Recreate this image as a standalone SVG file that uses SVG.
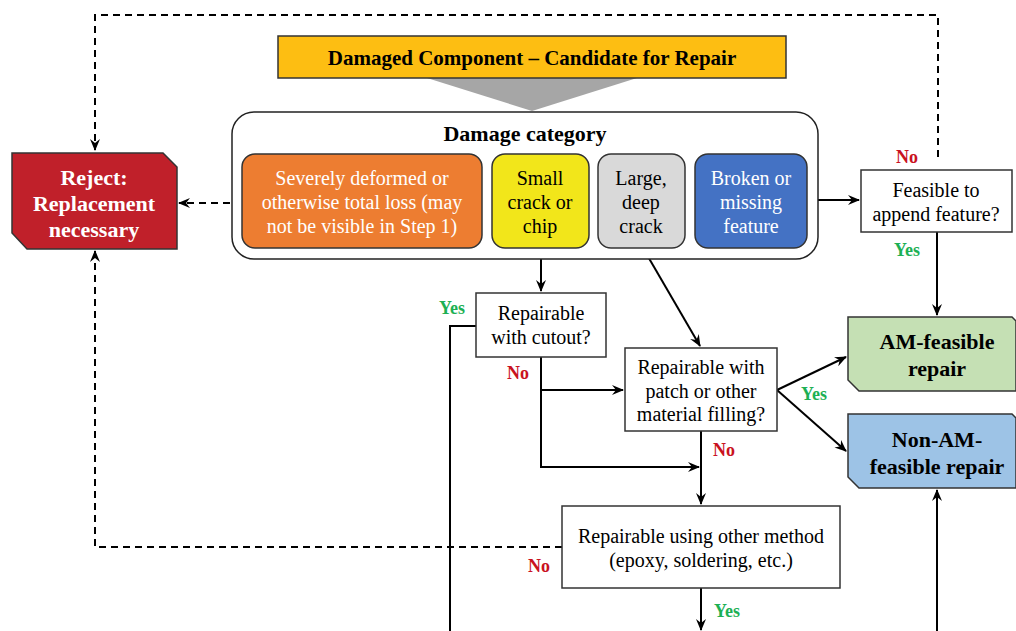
<svg xmlns="http://www.w3.org/2000/svg" width="1016" height="631" viewBox="0 0 1016 631">
<defs>
<marker id="ah" viewBox="0 0 12 10" refX="11" refY="5" markerWidth="12" markerHeight="10" markerUnits="userSpaceOnUse" orient="auto">
<path d="M0,0 L12,5 L0,10 L4,5 z" fill="#000"/>
</marker>
</defs>
<rect width="1016" height="631" fill="#fff"/>
<g id="connectors">
<g fill="none" stroke="#000" stroke-width="2">
<path stroke-dasharray="7,5" d="M938,157 V15 H95 V150" marker-end="url(#ah)"/>
<path stroke-dasharray="7,5" d="M242,203 H179" marker-end="url(#ah)"/>
<path stroke-dasharray="7,5" d="M562,547 H95 V251" marker-end="url(#ah)"/>
<path d="M807,200 H859" marker-end="url(#ah)"/>
<path d="M937,232 V315" marker-end="url(#ah)"/>
<path d="M937,631 V490" marker-end="url(#ah)"/>
<path d="M541,248 V291" marker-end="url(#ah)"/>
<path d="M476,326 H450 V631"/>
<path d="M541,357 V467 H699" marker-end="url(#ah)"/>
<path d="M541,390 H623" marker-end="url(#ah)"/>
<path d="M643,248 L700,346" marker-end="url(#ah)"/>
<path d="M777,390 L846,357" marker-end="url(#ah)"/>
<path d="M777,390 L846,451" marker-end="url(#ah)"/>
<path d="M701,431 V504" marker-end="url(#ah)"/>
<path d="M701,588 V630" marker-end="url(#ah)"/>
</g>
<text font-family="Liberation Serif" font-size="18" font-weight="bold" text-anchor="middle" fill="#C9121E" x="907" y="163">No</text>
<text font-family="Liberation Serif" font-size="18" font-weight="bold" text-anchor="middle" fill="#1DB054" x="907" y="256">Yes</text>
<text font-family="Liberation Serif" font-size="18" font-weight="bold" text-anchor="middle" fill="#1DB054" x="452" y="314">Yes</text>
<text font-family="Liberation Serif" font-size="18" font-weight="bold" text-anchor="middle" fill="#C9121E" x="518" y="379">No</text>
<text font-family="Liberation Serif" font-size="18" font-weight="bold" text-anchor="middle" fill="#1DB054" x="814" y="400">Yes</text>
<text font-family="Liberation Serif" font-size="18" font-weight="bold" text-anchor="middle" fill="#C9121E" x="724" y="456">No</text>
<text font-family="Liberation Serif" font-size="18" font-weight="bold" text-anchor="middle" fill="#C9121E" x="539" y="572">No</text>
<text font-family="Liberation Serif" font-size="18" font-weight="bold" text-anchor="middle" fill="#1DB054" x="727" y="617">Yes</text>
</g>

<g id="start">
<polygon points="427,78 637,78 532,111" fill="#A6A6A6"/>
<rect x="278" y="36" width="508" height="42" fill="#FDBE12" stroke="#333" stroke-width="1.5"/>
<text font-family="Liberation Serif" font-size="21" font-weight="bold" text-anchor="middle" x="532" y="65">Damaged Component – Candidate for Repair</text>
</g>

<g id="damage-category">
<rect x="232" y="112" width="586" height="147" rx="22" fill="#fff" stroke="#222" stroke-width="1.5"/>
<text font-family="Liberation Serif" font-size="22" font-weight="bold" text-anchor="middle" x="525" y="141">Damage category</text>
</g>

<g id="severe">
<rect x="242" y="154" width="240" height="94" rx="13" fill="#ED7D31" stroke="#333" stroke-width="1.5"/>
<text font-family="Liberation Serif" font-size="20" text-anchor="middle" fill="#fff" x="362" y="185">Severely deformed or</text>
<text font-family="Liberation Serif" font-size="20" text-anchor="middle" fill="#fff" x="362" y="209">otherwise total loss (may</text>
<text font-family="Liberation Serif" font-size="20" text-anchor="middle" fill="#fff" x="362" y="233">not be visible in Step 1)</text>
</g>

<g id="small">
<rect x="492" y="154" width="97" height="94" rx="13" fill="#F2E61A" stroke="#333" stroke-width="1.5"/>
<text font-family="Liberation Serif" font-size="20" text-anchor="middle" x="540" y="185">Small</text>
<text font-family="Liberation Serif" font-size="20" text-anchor="middle" x="540" y="209">crack or</text>
<text font-family="Liberation Serif" font-size="20" text-anchor="middle" x="540" y="233">chip</text>
</g>

<g id="large">
<rect x="598" y="154" width="87" height="94" rx="13" fill="#D9D9D9" stroke="#333" stroke-width="1.5"/>
<text font-family="Liberation Serif" font-size="20" text-anchor="middle" x="641" y="185">Large,</text>
<text font-family="Liberation Serif" font-size="20" text-anchor="middle" x="641" y="209">deep</text>
<text font-family="Liberation Serif" font-size="20" text-anchor="middle" x="641" y="233">crack</text>
</g>

<g id="broken">
<rect x="695" y="154" width="112" height="94" rx="13" fill="#4472C4" stroke="#333" stroke-width="1.5"/>
<text font-family="Liberation Serif" font-size="20" text-anchor="middle" fill="#fff" x="751" y="185">Broken or</text>
<text font-family="Liberation Serif" font-size="20" text-anchor="middle" fill="#fff" x="751" y="209">missing</text>
<text font-family="Liberation Serif" font-size="20" text-anchor="middle" fill="#fff" x="751" y="233">feature</text>
</g>

<g id="reject">
<polygon points="12,153 163,153 177,167 177,249 27,249 12,233" fill="#C0202A" stroke="#333" stroke-width="1.5"/>
<text font-family="Liberation Serif" font-size="22" font-weight="bold" text-anchor="middle" fill="#fff" x="94" y="185">Reject:</text>
<text font-family="Liberation Serif" font-size="22" font-weight="bold" text-anchor="middle" fill="#fff" x="94" y="211">Replacement</text>
<text font-family="Liberation Serif" font-size="22" font-weight="bold" text-anchor="middle" fill="#fff" x="94" y="237">necessary</text>
</g>

<g id="feasible-append">
<rect x="861" y="170" width="151" height="62" fill="#fff" stroke="#333" stroke-width="1.5"/>
<text font-family="Liberation Serif" font-size="20" text-anchor="middle" x="936" y="197">Feasible to</text>
<text font-family="Liberation Serif" font-size="20" text-anchor="middle" x="936" y="221">append feature?</text>
</g>

<g id="am-feasible">
<polygon points="848,317 1012,317 1016,321 1016,391 859,391 848,380" fill="#C5E0B4" stroke="#333" stroke-width="1.5"/>
<text font-family="Liberation Serif" font-size="22" font-weight="bold" text-anchor="middle" x="937" y="349">AM-feasible</text>
<text font-family="Liberation Serif" font-size="22" font-weight="bold" text-anchor="middle" x="937" y="376">repair</text>
</g>

<g id="non-am">
<polygon points="848,414 1012,414 1016,418 1016,488 859,488 848,477" fill="#9DC3E6" stroke="#333" stroke-width="1.5"/>
<text font-family="Liberation Serif" font-size="22" font-weight="bold" text-anchor="middle" x="937" y="447">Non-AM-</text>
<text font-family="Liberation Serif" font-size="22" font-weight="bold" text-anchor="middle" x="937" y="474">feasible repair</text>
</g>

<g id="cutout">
<rect x="476" y="293" width="130" height="64" fill="#fff" stroke="#333" stroke-width="1.5"/>
<text font-family="Liberation Serif" font-size="20" text-anchor="middle" x="541" y="320">Repairable</text>
<text font-family="Liberation Serif" font-size="20" text-anchor="middle" x="541" y="344">with cutout?</text>
</g>

<g id="patch">
<rect x="625" y="348" width="152" height="83" fill="#fff" stroke="#333" stroke-width="1.5"/>
<text font-family="Liberation Serif" font-size="20" text-anchor="middle" x="701" y="374">Repairable with</text>
<text font-family="Liberation Serif" font-size="20" text-anchor="middle" x="701" y="398">patch or other</text>
<text font-family="Liberation Serif" font-size="20" text-anchor="middle" x="701" y="421">material filling?</text>
</g>

<g id="other-method">
<rect x="562" y="506" width="278" height="82" fill="#fff" stroke="#333" stroke-width="1.5"/>
<text font-family="Liberation Serif" font-size="20" text-anchor="middle" x="701" y="543">Repairable using other method</text>
<text font-family="Liberation Serif" font-size="20" text-anchor="middle" x="701" y="567">(epoxy, soldering, etc.)</text>
</g>
</svg>
